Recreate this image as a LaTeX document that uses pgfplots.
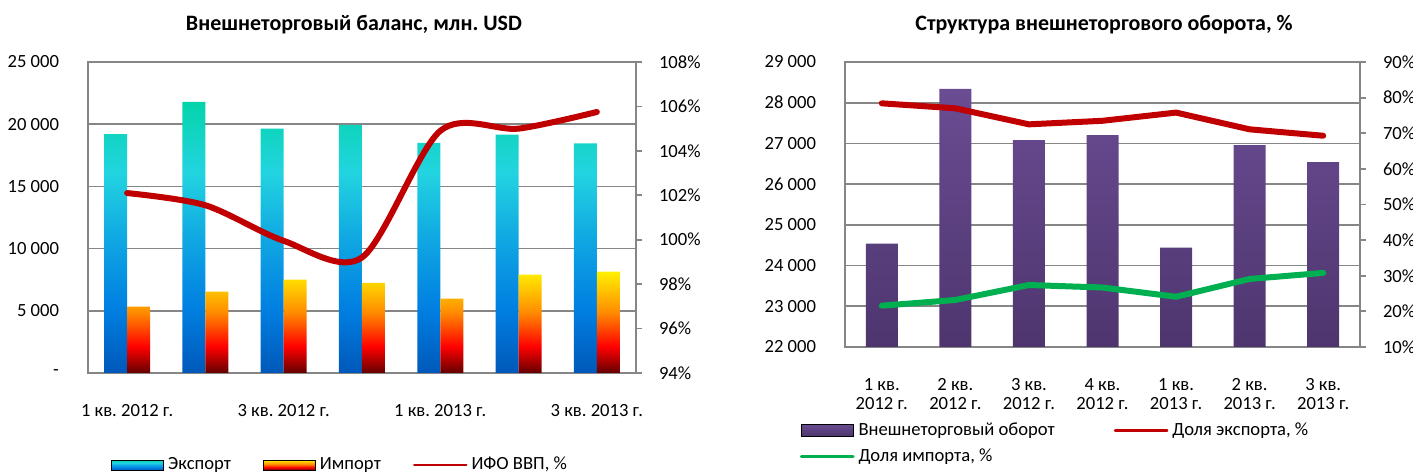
\documentclass[border=0pt]{standalone}
\usepackage{fontspec}
\setmainfont{Carlito}
\usepackage{pgfplots}
\pgfplotsset{compat=1.18}
\frenchspacing

\definecolor{gridgray}{RGB}{134,134,134}
\definecolor{lineRed}{RGB}{192,0,0}
\definecolor{lineGreen}{RGB}{0,176,80}
% export bars: blue at the foot, teal on top
\definecolor{expB}{RGB}{0,88,185}
\definecolor{expB2}{RGB}{0,128,226}
\definecolor{expM}{RGB}{16,168,226}
\definecolor{expC}{RGB}{34,212,224}
\definecolor{expT}{RGB}{4,212,170}
% import bars: dark red to yellow
\definecolor{impB}{RGB}{100,0,0}
\definecolor{impR}{RGB}{255,0,0}
\definecolor{impO}{RGB}{255,140,0}
\definecolor{impT}{RGB}{255,240,0}
% turnover bars
\definecolor{purB}{RGB}{78,53,110}
\definecolor{purT}{RGB}{106,76,147}

\pgfdeclareverticalshading{expshade}{100bp}{color(0bp)=(expB); color(25bp)=(expB);
  color(37bp)=(expB2); color(50bp)=(expM); color(62bp)=(expC); color(75bp)=(expT); color(100bp)=(expT)}
\pgfdeclareverticalshading{impshade}{100bp}{color(0bp)=(impB); color(25bp)=(impB);
  color(38bp)=(impR); color(55bp)=(impO); color(75bp)=(impT); color(100bp)=(impT)}
\pgfdeclareverticalshading{purshade}{100bp}{color(0bp)=(purB); color(25bp)=(purB);
  color(75bp)=(purT); color(100bp)=(purT)}

\begin{document}
\begin{tikzpicture}[x=1pt,y=1pt]
\useasboundingbox (0,0) rectangle (706.5,237.5);
\pgfplotsset{
  every axis/.append style={
    scale only axis,
    font=\fontsize{9.3}{11}\selectfont,
    axis line style={gridgray, line width=0.9pt},
    scaled y ticks=false,
  },
}

% ---------- left: trade balance ----------
\node[font=\bfseries\fontsize{11}{13}\selectfont] at (177,225) {Внешнеторговый баланс, млн. USD};

\begin{axis}[
  at={(44pt,51pt)}, anchor=south west,
  width=274pt, height=155.5pt,
  xmin=-0.5, xmax=6.5, ymin=0, ymax=25000,
  ybar=0pt, bar width=11.5pt,
  ytick={0,5000,...,25000},
  yticklabels={-,5 000,10 000,15 000,20 000,25 000},
  xtick={0,2,4,6},
  xticklabels={1 кв. 2012 г.,3 кв. 2012 г.,1 кв. 2013 г.,3 кв. 2013 г.},
  ymajorgrids, grid style={gridgray, line width=0.8pt},
  tick style={draw=none},
  yticklabel style={xshift=-11pt},
  xticklabel style={yshift=-8pt},
]
\addplot[draw=none, shading=expshade] coordinates
  {(0,19200) (1,21800) (2,19650) (3,19950) (4,18500) (5,19170) (6,18450)};
\addplot[draw=none, shading=impshade] coordinates
  {(0,5330) (1,6540) (2,7500) (3,7240) (4,5980) (5,7900) (6,8150)};
\end{axis}

\begin{axis}[
  at={(44pt,51pt)}, anchor=south west,
  width=274pt, height=155.5pt,
  xmin=-0.5, xmax=6.5, ymin=94, ymax=108,
  axis x line=none, axis y line*=right,
  ytick={94,96,...,108},
  yticklabels={94\%,96\%,98\%,100\%,102\%,104\%,106\%,108\%},
  tick align=outside, major tick length=3pt,
  ytick style={gridgray, line width=0.9pt},
  yticklabel style={xshift=5pt},
  legend columns=3, legend cell align=left,
  legend style={at={(0.462,-0.296)}, anchor=center, draw=none, fill=none,
    font=\fontsize{9.3}{11}\selectfont,
    /tikz/every even column/.append style={column sep=14pt}},
]
\addlegendimage{legend image code/.code={\fill[shading=expshade] (0pt,-2.5pt) rectangle (26pt,2.5pt);}}
\addlegendentry{Экспорт}
\addlegendimage{legend image code/.code={\fill[shading=impshade] (0pt,-2.5pt) rectangle (26pt,2.5pt);}}
\addlegendentry{Импорт}
\addplot[lineRed, line width=3pt, smooth, line cap=round,
  legend image code/.code={\draw[lineRed, line width=1.3pt] (0pt,0pt) -- (26pt,0pt);}]
  coordinates {(0,102.1) (1,101.55) (2,99.95) (3,99.2) (4,104.9) (5,105.0) (6,105.75)};
\addlegendentry{ИФО ВВП, \%}
\end{axis}

% ---------- right: trade structure ----------
\node[font=\bfseries\fontsize{11}{13}\selectfont] at (552,225) {Структура внешнеторгового оборота, \%};

\begin{axis}[
  at={(422.5pt,64pt)}, anchor=south west,
  width=257.5pt, height=142.5pt,
  xmin=-0.5, xmax=6.5, ymin=22000, ymax=29000,
  ybar, bar width=16pt,
  ytick={22000,23000,...,29000},
  yticklabels={22 000,23 000,24 000,25 000,26 000,27 000,28 000,29 000},
  xtick={0,...,6},
  xticklabels={{1 кв.\\2012 г.},{2 кв.\\2012 г.},{3 кв.\\2012 г.},{4 кв.\\2012 г.},
    {1 кв.\\2013 г.},{2 кв.\\2013 г.},{3 кв.\\2013 г.}},
  xticklabel style={align=center, yshift=-8pt, font=\fontsize{9.3}{9.6}\selectfont},
  ymajorgrids, grid style={gridgray, line width=0.8pt},
  tick style={draw=none},
  yticklabel style={xshift=-11pt},
]
\addplot[draw=none, shading=purshade] coordinates
  {(0,24540) (1,28340) (2,27080) (3,27205) (4,24440) (5,26960) (6,26540)};
\end{axis}

\begin{axis}[
  at={(422.5pt,64pt)}, anchor=south west,
  width=257.5pt, height=142.5pt,
  xmin=-0.5, xmax=6.5, ymin=10, ymax=90,
  axis x line=none, axis y line*=right,
  ytick={10,20,...,90},
  yticklabels={10\%,20\%,30\%,40\%,50\%,60\%,70\%,80\%,90\%},
  tick align=outside, major tick length=3pt,
  ytick style={gridgray, line width=0.9pt},
  yticklabel style={xshift=5pt},
  legend columns=2, legend cell align=left,
  legend style={at={(-0.10,-0.235)}, anchor=north west, draw=none, fill=none,
    font=\fontsize{9.3}{11}\selectfont, row sep=1.2pt,
    /tikz/every even column/.append style={column sep=27.5pt}},
]
\addlegendimage{legend image code/.code={\fill[shading=purshade] (0pt,-3pt) rectangle (26pt,3pt);}}
\addlegendentry{Внешнеторговый оборот}
\addplot[lineRed, line width=3pt, line cap=round, line join=round,
  legend image code/.code={\draw[lineRed, line width=1.3pt] (0pt,0pt) -- (26pt,0pt);}]
  coordinates {(0,78.4) (1,77.0) (2,72.5) (3,73.5) (4,75.8) (5,71.1) (6,69.3)};
\addlegendentry{Доля экспорта, \%}
\addplot[lineGreen, line width=3pt, line cap=round, line join=round,
  legend image code/.code={\draw[lineGreen, line width=1.3pt] (0pt,0pt) -- (26pt,0pt);}]
  coordinates {(0,21.6) (1,23.2) (2,27.4) (3,26.7) (4,24.1) (5,29.1) (6,30.8)};
\addlegendentry{Доля импорта, \%}
\end{axis}
\end{tikzpicture}
\end{document}
